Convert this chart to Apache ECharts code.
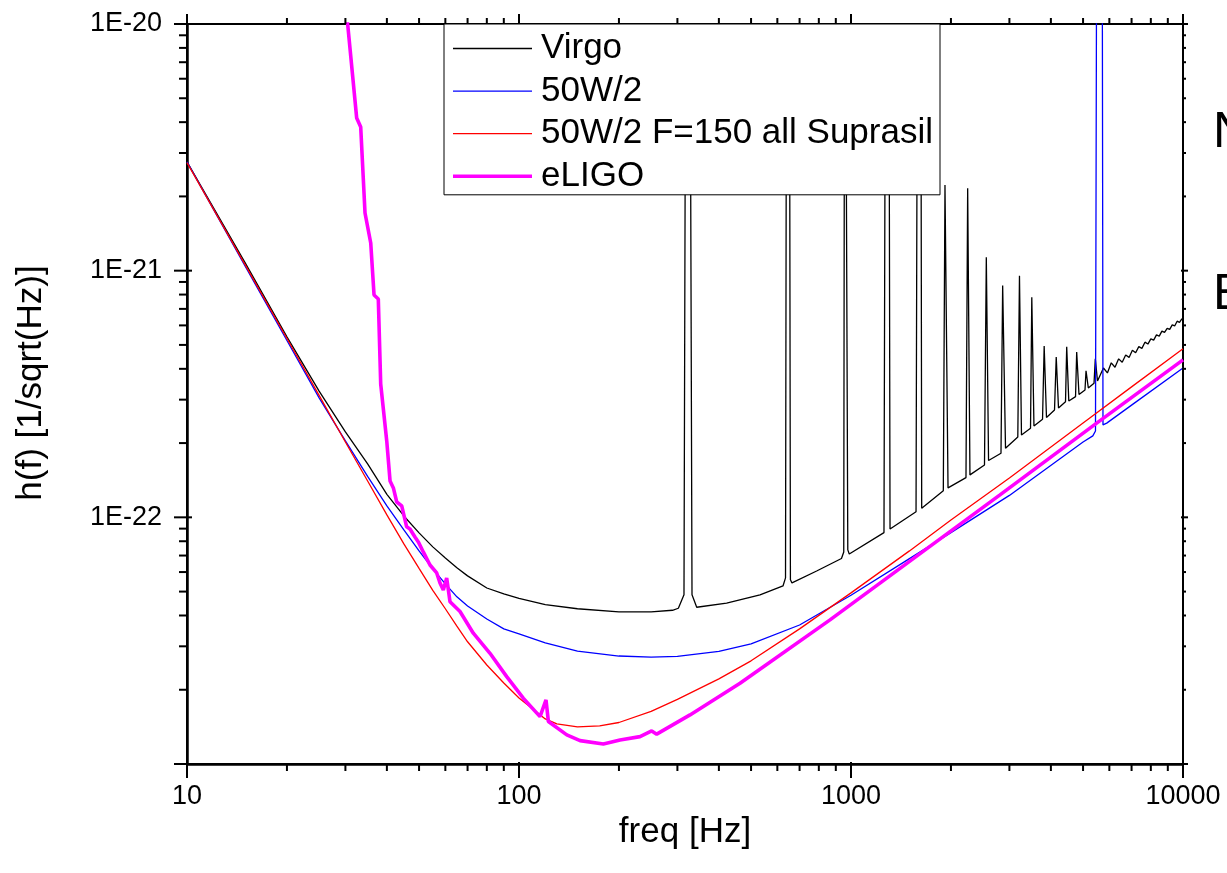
<!DOCTYPE html>
<html><head><meta charset="utf-8">
<script src="https://cdn.jsdelivr.net/npm/echarts@6/dist/echarts.min.js"></script>
<style>html,body{margin:0;padding:0;background:#fff;overflow:hidden}#c{width:1227px;height:873px}</style>
</head><body><div id="c"></div>
<script>
const seriesNames = ['Virgo', '50W/2', '50W/2 F=150 all Suprasil', 'eLIGO'];

const virgoFreq = [10,15,20,25,30,35,40,45,50,55,60,65,70,80,90,100,120,150,200,250,290,302,314,319,326,332,343,422,532,624,635,641,651,657,664,788,936,951,958,971,978,988,1257,1275,1297,1311,1570,1592,1619,1633,1897,1919,1960,2220,2246,2282,2524,2556,2596,2830,2863,2920,3180,3217,3262,3473,3504,3557,3775,3818,3880,4102,4151,4217,4427,4464,4529,4746,4784,4861,5068,5104,5186,5395,5443,5527,5760,5920,6080,6240,6400,6560,6720,6880,7040,7200,7360,7520,7680,7840,8000,8160,8320,8480,8640,8800,8960,9120,9280,9440,9600,9760,9920,10000];
const virgoH = [2.76e-21,1.07e-21,5.39e-22,3.25e-22,2.22e-22,1.646e-22,1.24e-22,1.013e-22,8.65e-23,7.59e-23,6.84e-23,6.24e-23,5.79e-23,5.17e-23,4.89e-23,4.69e-23,4.43e-23,4.26e-23,4.14e-23,4.14e-23,4.2e-23,4.28e-23,4.85e-23,1e-19,1e-19,4.85e-23,4.32e-23,4.49e-23,4.85e-23,5.27e-23,5.68e-23,1e-19,1e-19,5.58e-23,5.42e-23,6.06e-23,6.81e-23,7.24e-23,1e-19,1e-19,7.38e-23,7.1e-23,8.67e-23,1e-19,1e-19,8.97e-23,1.054e-22,1e-19,1e-19,1.089e-22,1.283e-22,2.225e-21,1.316e-22,1.449e-22,2.158e-21,1.486e-22,1.631e-22,1.133e-21,1.70e-22,1.819e-22,8.70e-22,1.905e-22,2.118e-22,9.54e-22,2.158e-22,2.297e-22,7.80e-22,2.347e-22,2.498e-22,4.95e-22,2.541e-22,2.724e-22,4.47e-22,2.776e-22,2.944e-22,4.91e-22,2.963e-22,3.085e-22,4.68e-22,3.149e-22,3.283e-22,3.93e-22,3.345e-22,3.495e-22,4.39e-22,3.572e-22,4.03e-22,3.85e-22,4.23e-22,4.06e-22,4.39e-22,4.25e-22,4.55e-22,4.45e-22,4.76e-22,4.65e-22,4.92e-22,4.84e-22,5.13e-22,5.04e-22,5.29e-22,5.23e-22,5.49e-22,5.43e-22,5.69e-22,5.62e-22,5.84e-22,5.78e-22,6.03e-22,5.97e-22,6.24e-22,6.17e-22,6.37e-22,6.40e-22];

const blueFreq = [10,15,20,25,30,35,40,45,50,55,60,65,70,80,90,100,120,150,200,250,300,400,500,700,1000,1500,2000,3000,5000,5350,5450,5508,5702,5741,5892,7000,10000];
const blueH = [2.76e-21,1.039e-21,5.21e-22,3.05e-22,2.04e-22,1.465e-22,1.112e-22,8.89e-23,7.31e-23,6.18e-23,5.37e-23,4.76e-23,4.37e-23,3.87e-23,3.53e-23,3.37e-23,3.10e-23,2.87e-23,2.74e-23,2.71e-23,2.73e-23,2.86e-23,3.07e-23,3.66e-23,4.83e-23,6.80e-23,8.67e-23,1.227e-22,2.02e-22,2.14e-22,2.24e-22,1e-19,1e-19,2.37e-22,2.41e-22,2.85e-22,4.03e-22];

const redFreq = [10,15,20,25,30,35,40,45,50,55,60,65,70,80,90,100,110,120,130,150,175,200,250,300,400,500,700,1000,1500,2000,3000,5000,7000,10000];
const redH = [2.74e-21,1.051e-21,5.31e-22,3.12e-22,2.02e-22,1.404e-22,1.023e-22,7.80e-23,6.21e-23,5.06e-23,4.26e-23,3.62e-23,3.13e-23,2.52e-23,2.13e-23,1.853e-23,1.672e-23,1.523e-23,1.454e-23,1.414e-23,1.427e-23,1.473e-23,1.634e-23,1.827e-23,2.215e-23,2.62e-23,3.53e-23,4.94e-23,7.31e-23,9.76e-23,1.444e-22,2.41e-22,3.38e-22,4.82e-22];

const eligoFreq = [30.29,32.44,33.36,34.37,35.76,36.59,37.69,38.32,39.96,40.89,41.84,42.83,44.34,45.88,46.95,48.6,49.74,51.49,53.94,56.51,57.81,59.16,60.56,61.97,66.42,72.84,81.77,91.83,103.0,115.7,120.6,122.6,139.3,152.7,179.5,201.5,231.5,251.0,259.9,327.4,463.2,864.5,2810,5495,10000];
const eligoH = [1.088e-20,4.16e-21,3.82e-21,1.713e-21,1.295e-21,7.97e-22,7.68e-22,3.47e-22,2.04e-22,1.404e-22,1.316e-22,1.154e-22,1.112e-22,9.15e-23,8.97e-23,8.32e-23,7.95e-23,7.24e-23,6.41e-23,5.95e-23,5.42e-23,5.08e-23,5.68e-23,4.55e-23,4.15e-23,3.39e-23,2.81e-23,2.26e-23,1.848e-23,1.556e-23,1.819e-23,1.486e-23,1.312e-23,1.244e-23,1.206e-23,1.252e-23,1.291e-23,1.362e-23,1.321e-23,1.581e-23,2.126e-23,3.84e-23,1.233e-22,2.41e-22,4.35e-22];

const xTicks = [10,20,30,40,50,60,70,80,90,100,200,300,400,500,600,700,800,900,1000,2000,3000,4000,5000,6000,7000,8000,9000,10000];
const yTicks = [1e-23,2e-23,3e-23,4e-23,5e-23,6e-23,7e-23,8e-23,9e-23,1e-22,2e-22,3e-22,4e-22,5e-22,6e-22,7e-22,8e-22,9e-22,1e-21,2e-21,3e-21,4e-21,5e-21,6e-21,7e-21,8e-21,9e-21,1e-20];

const xTitle = 'freq [Hz]';
const yTitle = 'h(f) [1/sqrt(Hz)]';
const sideTexts = ['N', 'E'];

const FONT = "'Liberation Sans', Arial, sans-serif";
function zip(f, h) { return f.map((v, i) => [v, h[i]]); }
function isMajor(v) { const l = Math.log10(v); return Math.abs(l - Math.round(l)) < 1e-6; }

const tickGeom = {
  bottom: { major: [14, 2], minor: [7, 0] },
  top:    { major: [10, 0], minor: [6, 0] },
  left:   { major: [13, 5], minor: [8, 0] },
  right:  { major: [5, 2],  minor: [3, 1] }
};
function tickSeries(side) {
  const isX = side === 'bottom' || side === 'top';
  const vals = isX ? xTicks : yTicks;
  const data = vals.map(v => isX ? [v, side === 'bottom' ? 1e-23 : 1e-20] : [side === 'left' ? 10 : 10000, v]);
  return {
    type: 'custom', coordinateSystem: 'cartesian2d', silent: true, clip: false, z: 6,
    data: data,
    renderItem: function (params, api) {
      const p = api.coord([api.value(0), api.value(1)]);
      const v = isX ? api.value(0) : api.value(1);
      const g = tickGeom[side][isMajor(v) ? 'major' : 'minor'];
      let x1 = p[0], x2 = p[0], y1 = p[1], y2 = p[1];
      if (side === 'bottom') { y1 = p[1] - g[1]; y2 = p[1] + g[0]; }
      if (side === 'top') { y1 = p[1] + g[1]; y2 = p[1] - g[0]; }
      if (side === 'left') { x1 = p[0] + g[1]; x2 = p[0] - g[0]; }
      if (side === 'right') { x1 = p[0] - g[1]; x2 = p[0] + g[0]; }
      return { type: 'line', shape: { x1: x1, y1: y1, x2: x2, y2: y2 }, style: { stroke: '#000', lineWidth: 2 } };
    }
  };
}

const lineColors = ['#000000', '#0000ff', '#ff0000', '#ff00ff'];
const lineWidths = [1.3, 1.3, 1.3, 3.6];

const chart = echarts.init(document.getElementById('c'), null, { renderer: 'canvas' });
const option = {
  animation: false,
  backgroundColor: '#fff',
  grid: { left: 187, right: 44, top: 24, bottom: 109, containLabel: false, outerBoundsMode: 'none',
          show: true, borderColor: '#000', borderWidth: 2, backgroundColor: 'rgba(0,0,0,0)' },
  xAxis: {
    type: 'log', logBase: 10, min: 10, max: 10000,
    axisLine: { show: true, lineStyle: { color: '#000', width: 2.5 } },
    axisTick: { show: false }, minorTick: { show: false }, splitLine: { show: false },
    axisLabel: { color: '#000', fontSize: 27, fontFamily: FONT, margin: 19, formatter: function (v) { return String(Math.round(v)); } },
    name: xTitle, nameLocation: 'middle', nameGap: 47,
    nameTextStyle: { color: '#000', fontSize: 35, fontFamily: FONT }
  },
  yAxis: {
    type: 'log', logBase: 10, min: 1e-23, max: 1e-20,
    axisLine: { show: true, lineStyle: { color: '#000', width: 2.5 } },
    axisTick: { show: false }, minorTick: { show: false }, splitLine: { show: false },
    axisLabel: { color: '#000', fontSize: 27, fontFamily: FONT, margin: 25, formatter: function (v) { return '1E' + Math.round(Math.log10(v)); } }
  },
  legend: {
    data: seriesNames.map(function (n, i) { return { name: n, icon: 'path://M0,0H79V' + lineWidths[i] + 'H0Z' }; }),
    orient: 'vertical', left: 444, top: 24,
    padding: [7, 7, 1, 9], itemGap: 7.6, itemWidth: 79, itemHeight: 14, symbolKeepAspect: true,
    backgroundColor: '#fff', borderColor: '#000', borderWidth: 1, borderRadius: 0,
    selectedMode: false,
    textStyle: { color: '#000', fontSize: 35, fontFamily: FONT, padding: [0, 0, 0, 4] }
  },
  graphic: [
    { type: 'text', x: 31, y: 383, rotation: Math.PI / 2,
      style: { text: yTitle, x: 0, y: 0, fontSize: 35, fontFamily: FONT, fill: '#000', align: 'center', verticalAlign: 'middle', textAlign: 'center', textVerticalAlign: 'middle' } },
    { type: 'text', left: 1213, top: 108, style: { text: sideTexts[0], fontSize: 50, fontFamily: FONT, fill: '#000' } },
    { type: 'text', left: 1213, top: 270, style: { text: sideTexts[1], fontSize: 50, fontFamily: FONT, fill: '#000' } }
  ],
  series: seriesNames.map(function (n, i) {
    const src = [[virgoFreq, virgoH], [blueFreq, blueH], [redFreq, redH], [eligoFreq, eligoH]][i];
    return { name: n, type: 'line', data: zip(src[0], src[1]), symbol: 'none', showSymbol: false, smooth: false,
             lineStyle: { color: lineColors[i], width: lineWidths[i] }, itemStyle: { color: lineColors[i] } };
  }).concat([tickSeries('bottom'), tickSeries('top'), tickSeries('left'), tickSeries('right')])
};
chart.setOption(option);
</script>
</body></html>
